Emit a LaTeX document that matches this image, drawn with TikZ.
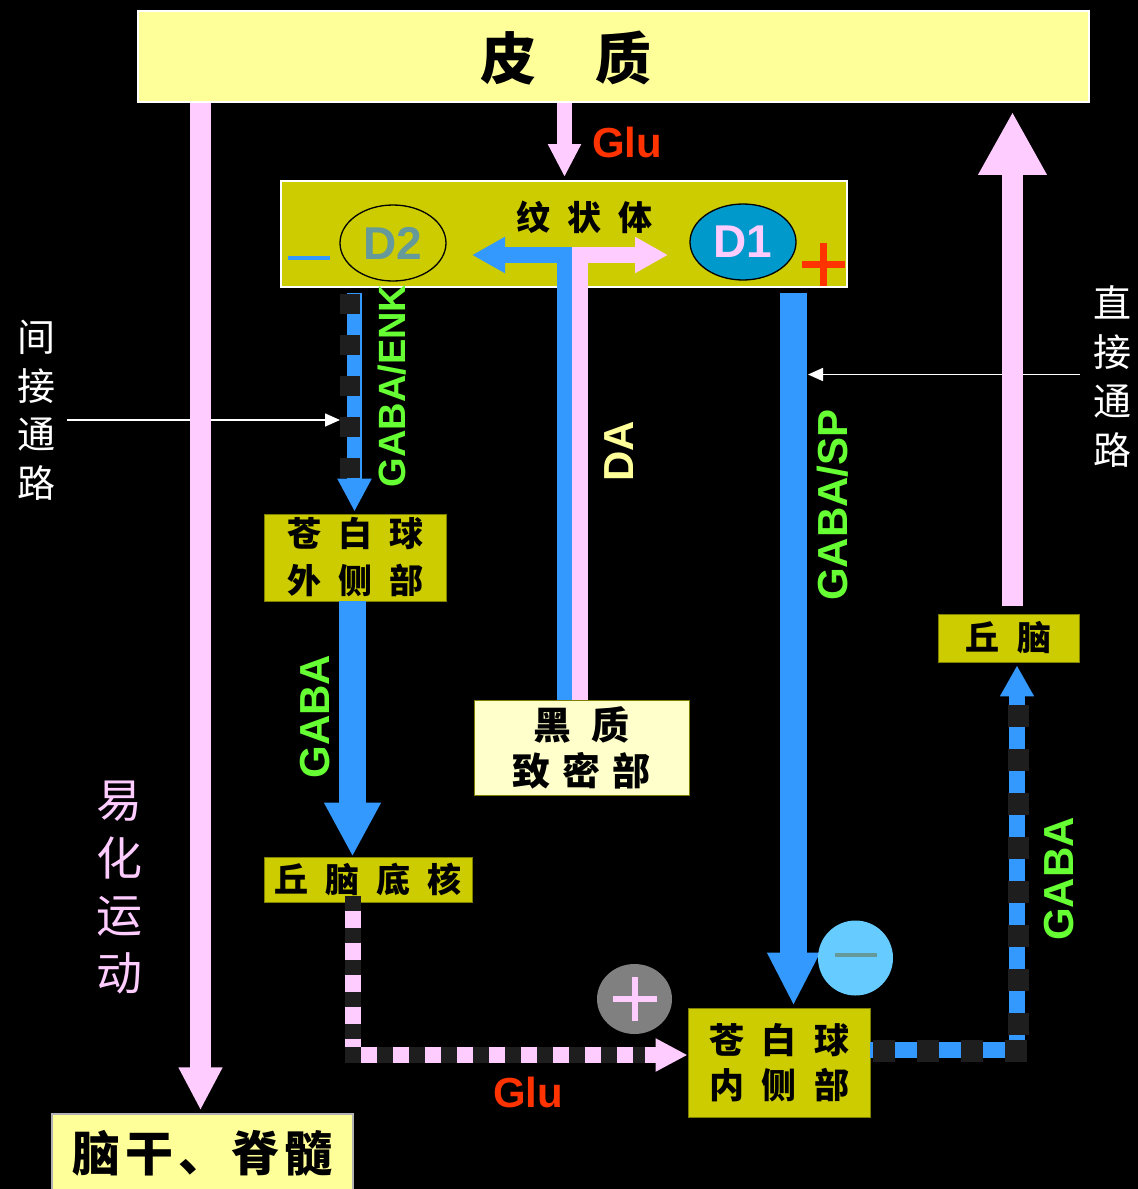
\documentclass[tikz,border=0pt]{standalone}
\usepackage{fontspec}
\setmainfont{Liberation Sans}
\newfontfamily\cjk{Noto Sans CJK SC}
\usetikzlibrary{arrows.meta,shapes.geometric}
\definecolor{cortexY}{HTML}{FFFF99}
\definecolor{oliveC}{HTML}{CCCC00}
\definecolor{oliveEdge}{HTML}{7F7F00}
\definecolor{pinkC}{HTML}{FFCCFF}
\definecolor{blueC}{HTML}{3399FF}
\definecolor{greenC}{HTML}{66FF33}
\definecolor{redC}{HTML}{FF3300}
\definecolor{snY}{HTML}{FFFFCC}
\definecolor{tealC}{HTML}{669999}
\definecolor{dblue}{HTML}{0099CC}
\definecolor{lblue}{HTML}{66CCFF}
\definecolor{sqC}{HTML}{1E1E1E}
\definecolor{greyC}{HTML}{808080}
\newcommand{\ws}{\hspace{0.5em}}
\begin{document}
\begin{tikzpicture}[x=1pt,y=-1pt,line join=miter,
  olivebox/.style={draw=oliveEdge, line width=0.8pt, fill=oliveC, inner sep=0pt, align=center, text=black},
  fat/.style n args={4}{draw=#1, line width=#2, -{Triangle[length=#3,width=#4]}},
  squares/.style n args={3}{draw=sqC, line width=#1, dash pattern=on #2 off #3},
  vlabel/.style={rotate=90, inner sep=0pt, font=\bfseries\fontsize{42}{42}\selectfont, text=greenC},
  thinarrow/.style={draw=white, line width=1.6pt, -{Triangle[length=15pt,width=13pt]}}
]
\fill[black] (0,0) rectangle (1138,1189);
\useasboundingbox (0,0) rectangle (1138,1189);

% x positions of connectors
\coordinate (xL) at (200.5,0);
\coordinate (xR) at (1012.5,0);
\coordinate (xglu) at (564.5,0);
\coordinate (xda1) at (564.5,0);
\coordinate (xda2) at (580,0);
\coordinate (xenk) at (354.5,0);
\coordinate (xsq) at (350,0);
\coordinate (xgaba) at (352.5,0);
\coordinate (xsp) at (793.5,0);
\coordinate (xstn) at (353,0);
\coordinate (xthal) at (1017,0);
\coordinate (yglu) at (0,1055);
\coordinate (ygp) at (0,1050);

% white pointer arrows (behind pink arrows)
\coordinate (indS) at (67,420);
\coordinate (indE) at (340,420);
\coordinate (dirS) at (1080,374.5);
\coordinate (dirE) at (808,374.5);
\draw[thinarrow] (indS) -- (indE);
\draw[thinarrow] (dirS) -- (dirE);

% boxes
\node[draw=white, line width=1.5pt, fill=cortexY, minimum width=951pt, minimum height=91pt, inner sep=0pt] (cortex) at (613.5,56.5) {};
\node[font=\cjk\bfseries\fontsize{56}{60}\selectfont, text=black] (cortextxt) at (566,58) {皮\hspace{59pt}质};

\node[draw=white, line width=2pt, fill=oliveC, minimum width=566pt, minimum height=106pt, inner sep=0pt] (striatum) at (564,234) {};
\node[font=\cjk\bfseries\fontsize{34}{40}\selectfont, text=black] (sttxt) at (584.5,217) {纹\ws 状\ws 体};

\node[draw=gray!60, line width=1.5pt, fill=cortexY, minimum width=301pt, minimum height=78pt, inner sep=0pt,
      font=\cjk\bfseries\fontsize{48}{50}\selectfont] (brainstem) at (202.5,1153) {脑\hspace{5pt}干\hspace{5pt}、\hspace{5pt}脊\hspace{5pt}髓};

\node[olivebox, minimum width=182pt, minimum height=87pt, font=\cjk\bfseries\fontsize{34}{47}\selectfont] (gpe) at (355,557.5) {苍\ws 白\ws 球\\外\ws 侧\ws 部};
\node[olivebox, minimum width=208pt, minimum height=45pt, font=\cjk\bfseries\fontsize{34}{40}\selectfont] (stn) at (368,879.5) {丘\ws 脑\ws 底\ws 核};
\node[draw=oliveEdge, line width=0.8pt, fill=snY, minimum width=215pt, minimum height=95pt, inner sep=0pt, align=center,
      font=\cjk\bfseries\fontsize{38}{46}\selectfont] (snc) at (581.5,747.5) {黑\hspace{20pt}质\\致\hspace{12pt}密\hspace{12pt}部};
\node[olivebox, minimum width=182pt, minimum height=109pt, font=\cjk\bfseries\fontsize{35}{45}\selectfont] (gpi) at (779,1062.5) {苍\ws 白\ws 球\\内\ws 侧\ws 部};
\node[olivebox, minimum width=141pt, minimum height=48pt, font=\cjk\bfseries\fontsize{34}{40}\selectfont] (thal) at (1008.5,638) {丘\hspace{19pt}脑};

% D2 / D1 receptors
\node[ellipse, draw=black, line width=1.3pt, minimum width=106pt, minimum height=76pt, inner sep=0pt,
      font=\bfseries\fontsize{46}{46}\selectfont, text=tealC] (d2) at (393,243) {D2};
\node[ellipse, draw=black, line width=1.3pt, fill=dblue, minimum width=106pt, minimum height=76pt, inner sep=0pt,
      font=\bfseries\fontsize{46}{46}\selectfont, text=pinkC] (d1) at (743,242) {D1};
\draw[blueC, line width=4pt] (288,258) -- (330,258);
\draw[redC, line width=7pt] (802,264.5) -- (845,264.5) (823.5,243) -- (823.5,286);

% long pink arrows
\draw[fat={pinkC}{21pt}{43pt}{41pt}, shorten >=3pt] (cortex.south -| xL) -- (brainstem.north -| xL);
\draw[fat={pinkC}{21pt}{63pt}{64pt}, shorten <=8pt, shorten >=9pt] (thal.north -| xR) -- (cortex.south -| xR);

% cortex -> striatum (Glu)
\draw[fat={pinkC}{15pt}{33pt}{31pt}, shorten >=3pt] (cortex.south -| xglu) -- (striatum.north -| xglu);
\node[font=\bfseries\fontsize{42}{42}\selectfont, text=redC, inner sep=0pt] (glu1) at (627,142) {Glu};

% DA (substantia nigra -> striatum)
\coordinate (daL) at (472,255);
\coordinate (daR) at (668,255);
\draw[fat={blueC}{15.5pt}{33pt}{34pt}] (snc.north -| xda1) -- (564.5,255) -- (daL);
\draw[fat={pinkC}{16pt}{33pt}{34pt}] (snc.north -| xda2) -- (580,255) -- (daR);
\node[vlabel, text=cortexY] (da) at (619,451) {DA};

% indirect: striatum -> GPe
\draw[fat={blueC}{15pt}{33pt}{32pt}, shorten <=5pt, shorten >=2pt] (striatum.south -| xenk) -- (gpe.north -| xenk);
\draw[squares={20pt}{20pt}{21pt}, shorten <=6pt, shorten >=36pt] (striatum.south -| xsq) -- (gpe.north -| xsq);
\node[vlabel, font=\bfseries\fontsize{38}{38}\selectfont] (gabaenk) at (392,386) {GABA/ENK};

% GPe -> STN
\draw[fat={blueC}{27pt}{54pt}{53pt}] (gpe.south -| xgaba) -- (stn.north -| xgaba);
\node[vlabel] (gaba1) at (315.5,716.5) {GABA};

% STN -> GPi (Glu)
\draw[fat={pinkC}{16pt}{32pt}{31pt}] (stn.south -| xstn) |- (gpi.west |- yglu);
\coordinate (gluV1) at (353,896);
\coordinate (gluV2) at (353,1040);
\coordinate (gluH1) at (345,1055);
\coordinate (gluH2) at (645,1055);
\draw[squares={15.5pt}{15pt}{17pt}] (gluV1) -- (gluV2);
\draw[squares={16pt}{16pt}{16pt}] (gluH1) -- (gluH2);
\node[font=\bfseries\fontsize{42}{42}\selectfont, text=redC, inner sep=0pt] (glu2) at (528,1092) {Glu};
\node[ellipse, fill=greyC, minimum width=75pt, minimum height=70pt, inner sep=0pt] (plus) at (634.5,999) {};
\draw[pinkC, line width=6pt] ([xshift=-22pt]plus.center) -- ([xshift=22pt]plus.center)
                            ([yshift=-22pt]plus.center) -- ([yshift=22pt]plus.center);

% direct: striatum -> GPi
\draw[fat={blueC}{27pt}{53pt}{49pt}, shorten <=5pt, shorten >=2pt] (striatum.south -| xsp) -- (gpi.north -| xsp);
\node[vlabel] (gabasp) at (832.5,505) {GABA/SP};
\node[circle, fill=lblue, minimum size=75pt, inner sep=0pt] (minus) at (855.5,958) {};
\draw[tealC, line width=4pt] ([xshift=-21pt,yshift=3pt]minus.center) -- ([xshift=21pt,yshift=3pt]minus.center);

% GPi -> thalamus
\draw[fat={blueC}{16pt}{31pt}{32pt}, shorten >=3pt] (gpi.east |- ygp) -| (thal.south -| xthal);
\coordinate (gpH1) at (873,1051);
\coordinate (gpH2) at (1028,1051);
\coordinate (gpV1) at (1018,1035);
\coordinate (gpV2) at (1018,705);
\draw[squares={22pt}{22pt}{22pt}] (gpH1) -- (gpH2);
\draw[squares={21pt}{22pt}{22pt}] (gpV1) -- (gpV2);
\node[vlabel] (gaba2) at (1059,879) {GABA};

% side labels
\node[text=white, align=center, inner sep=0pt, font=\cjk\fontsize{38}{48.5}\selectfont] (indlbl) at (36.5,410.5) {间\\接\\通\\路};
\node[text=white, align=center, inner sep=0pt, font=\cjk\fontsize{38}{49}\selectfont] (dirlbl) at (1112,376.5) {直\\接\\通\\路};
\node[text=pinkC, align=center, inner sep=0pt, font=\cjk\fontsize{46}{57.7}\selectfont] (faclbl) at (119.5,887.5) {易\\化\\运\\动};
\end{tikzpicture}
\end{document}
